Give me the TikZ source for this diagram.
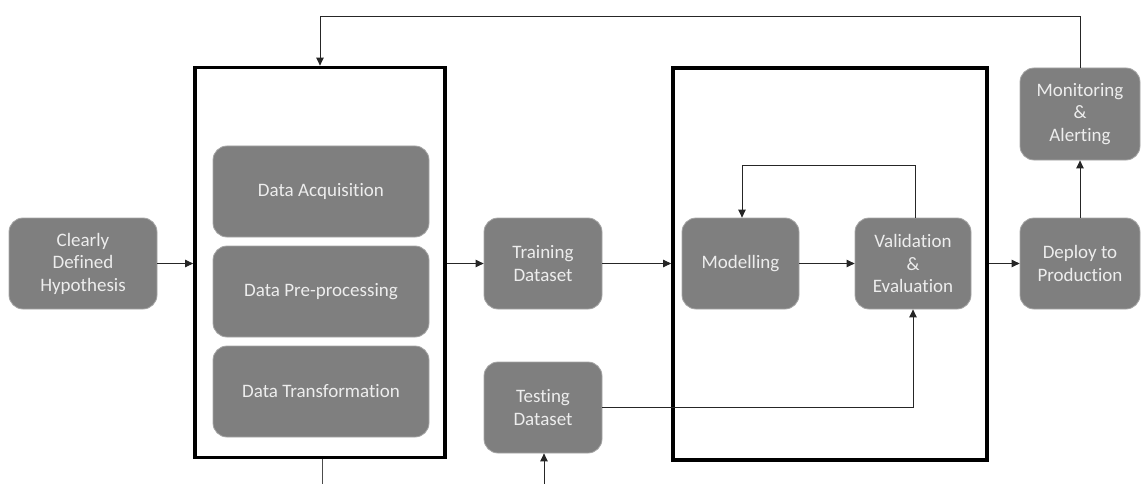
\documentclass[tikz,border=0pt]{standalone}
\usepackage{fontspec}
\setmainfont{Carlito}[Ligatures=NoCommon]
\usetikzlibrary{arrows.meta}
\definecolor{boxfill}{HTML}{7F7F7F}
\definecolor{boxedge}{HTML}{A6A6A6}
\definecolor{boxtext}{HTML}{EDEDED}
\begin{document}
\begin{tikzpicture}[x=1pt,y=-1pt,
  stage/.style={draw=boxedge, line width=0.8pt, fill=boxfill, rounded corners=14pt,
    text=boxtext, align=center, inner sep=0pt,
    font=\fontsize{19}{22.5}\selectfont},
  frame/.style={draw=black, line width=3.8pt, inner sep=0pt},
  link/.style={draw=black!85, line width=0.9pt, -{Triangle[length=8pt,width=7.5pt]}},
  plain/.style={draw=black!70, line width=0.9pt}
]
\useasboundingbox (0,0) rectangle (1143,484);

% containers
\node[frame, minimum width=250pt, minimum height=390pt] (prep) at (320,262.5) {};
\node[frame, minimum width=314pt, minimum height=392pt] (train) at (830,264) {};

% stages
\node[stage, minimum width=148pt, minimum height=91pt] (hyp) at (83,263.5) {Clearly\\Defined\\Hypothesis};
\node[stage, minimum width=216pt, minimum height=91pt] (acq) at (321,191.5) {Data Acquisition};
\node[stage, minimum width=216pt, minimum height=91pt] (pre) at (321,291.5) {Data Pre-processing};
\node[stage, minimum width=216pt, minimum height=91pt] (trans) at (321,391.5) {Data Transformation};
\node[stage, minimum width=118pt, minimum height=91pt] (trainset) at (543,263.5) {Training\\Dataset};
\node[stage, minimum width=118pt, minimum height=91pt] (testset) at (543,407.5) {Testing\\Dataset};
\node[stage, minimum width=117pt, minimum height=91pt] (model) at (740.5,263.5) {Modelling};
\node[stage, minimum width=116pt, minimum height=91pt] (valid) at (913,263.5) {Validation\\\&\\Evaluation};
\node[stage, minimum width=120pt, minimum height=91pt] (deploy) at (1080,263.5) {Deploy to\\Production};
\node[stage, minimum width=120pt, minimum height=92pt] (monitor) at (1080,114) {Monitoring\\\&\\Alerting};

% loose ends at the lower edge
\coordinate (prepout) at (322,484);
\coordinate (testin) at (544,484);

% connectors
\draw[link] (hyp.east) -- (hyp.east -| prep.west);
\draw[link] (prep.east |- trainset.west) -- (trainset.west);
\draw[link] (trainset.east) -- (trainset.east -| train.west);
\draw[link] (model.east) -- (valid.west);
\draw[link] ([xshift=2pt]valid.north) |- (742,165) -- (742,263.5 |- model.north);
\draw[link] (testset.east) -| (valid.south);
\draw[link] (train.east |- deploy.west) -- (deploy.west);
\draw[link] (deploy.north) -- (monitor.south);
\draw[link] (monitor.north) |- (320,16) -- (320,0 |- prep.north);
\draw[plain] (prepout |- prep.south) -- (prepout);
\draw[link] (testin) -- (testin |- testset.south);
\end{tikzpicture}
\end{document}
